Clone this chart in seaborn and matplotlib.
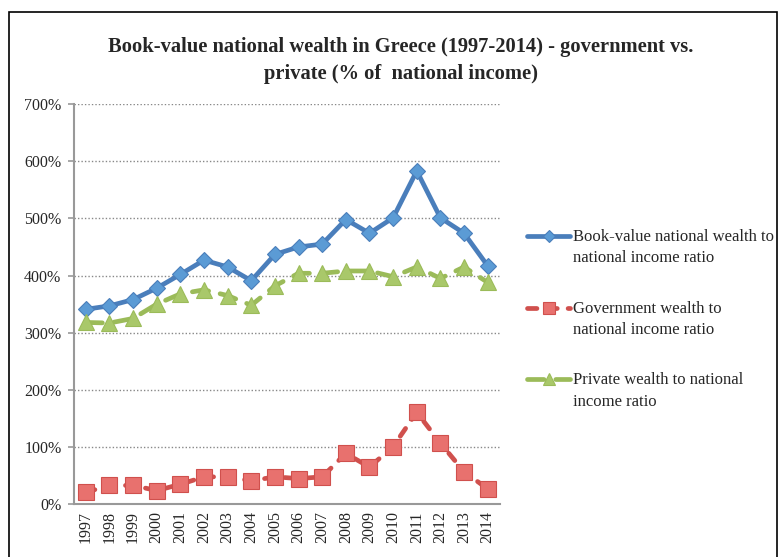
import matplotlib.pyplot as plt
import numpy as np
import seaborn as sns
from matplotlib.legend_handler import HandlerLine2D
from matplotlib.patches import Rectangle
from matplotlib.ticker import PercentFormatter

years = list(range(1997, 2015))
book_value = [341, 347, 358, 378, 402, 427, 415, 391, 437, 450, 455, 498, 474, 501, 583, 501, 474, 417]
government = [21, 33, 33, 24, 35, 48, 48, 41, 48, 45, 48, 89, 65, 101, 161, 107, 57, 27]
private = [318, 317, 325, 350, 368, 375, 365, 348, 382, 404, 404, 408, 408, 398, 415, 395, 415, 388]
y_ticks = [0, 100, 200, 300, 400, 500, 600, 700]
series_labels = ['Book-value national wealth to\nnational income ratio',
                 'Government wealth to\nnational income ratio',
                 'Private wealth to national\nincome ratio']
title = 'Book-value national wealth in Greece (1997-2014) - government vs.\nprivate (% of  national income)'


class FirstLineHandler(HandlerLine2D):
    #legend line sits next to the first text line, not the middle of the label
    def create_artists(self, legend, orig_handle, xdescent, ydescent, width, height, fontsize, trans):
        shift = 0.7 * fontsize
        return super().create_artists(legend, orig_handle, xdescent, ydescent - 2 * shift,
                                      width, height, fontsize, trans)


sns.set_style('white')
plt.rcParams['font.family'] = ['Liberation Serif', 'DejaVu Serif']

fig = plt.figure(figsize=(7.81, 5.57), dpi=100)
ax = fig.add_axes([74 / 781, 52.7 / 557, 425.5 / 781, 400.3 / 557])

styles = [
    (book_value, 'D', 8.5, '#4A7EBB', '#5B9BD5', None),
    (government, 's', 11.5, '#D0504D', '#E8716E', (2, 2.3)),
    (private, '^', 11.5, '#9BBB59', '#A9C86A', (3.5, 2.5)),
]
handles = []
for values, marker, size, line_color, face, dashes in styles:
    sns.lineplot(x=years, y=values, ax=ax, color=line_color, linewidth=3.4,
                 marker=marker, markersize=size, markerfacecolor=face,
                 markeredgecolor=line_color, markeredgewidth=0.8)
    line = ax.lines[-1]
    line.set_solid_capstyle('round')
    if dashes:
        line.set_dashes(dashes)
        line.set_dash_capstyle('round')
    handles.append(line)

if ax.get_legend():
    ax.get_legend().remove()

ax.set_xlim(1996.5, 2014.5)
ax.set_ylim(0, 700)
ax.set_xticks(years)
ax.set_xticklabels(years, rotation=90, fontsize=11.5)
ax.set_xticks(np.arange(1996.5, 2015), minor=True)
ax.tick_params(axis='x', which='major', length=0, pad=5)
ax.tick_params(axis='x', which='minor', length=5, color='#999999', width=1.2)
ax.set_yticks(y_ticks)
ax.yaxis.set_major_formatter(PercentFormatter(xmax=100, decimals=0))
ax.tick_params(axis='y', length=4, color='#999999', width=1.2, pad=5, labelsize=11.5, left=True)
ax.yaxis.grid(True, linestyle=(0, (1, 1.5)), color='#888888', linewidth=1)
ax.xaxis.grid(False)
ax.set_xlabel('')
ax.set_ylabel('')
sns.despine(ax=ax)
for side in ['left', 'bottom']:
    ax.spines[side].set_color('#999999')
    ax.spines[side].set_linewidth(1.5)

fig.text(401 / 781, 1 - 60.5 / 557, title, ha='center', va='center',
         fontsize=14.8, fontweight='bold', linespacing=1.45)

leg = fig.legend(handles, series_labels, loc='upper left', bbox_to_anchor=(527 / 781, 1 - 229 / 557),
                 frameon=False, fontsize=12, handlelength=2.6, handletextpad=0.15, numpoints=1,
                 markerscale=0.75, labelspacing=2.05, borderpad=0, borderaxespad=0,
                 handler_map={h: FirstLineHandler() for h in handles})
for t in leg.get_texts():
    t.set_linespacing(1.45)

fig.add_artist(Rectangle((9 / 781, -0.01), 768 / 781, 1.01 - 12 / 557, transform=fig.transFigure,
                         fill=False, edgecolor='black', linewidth=1.2))

plt.savefig('out.png', dpi=100)
plt.close()
